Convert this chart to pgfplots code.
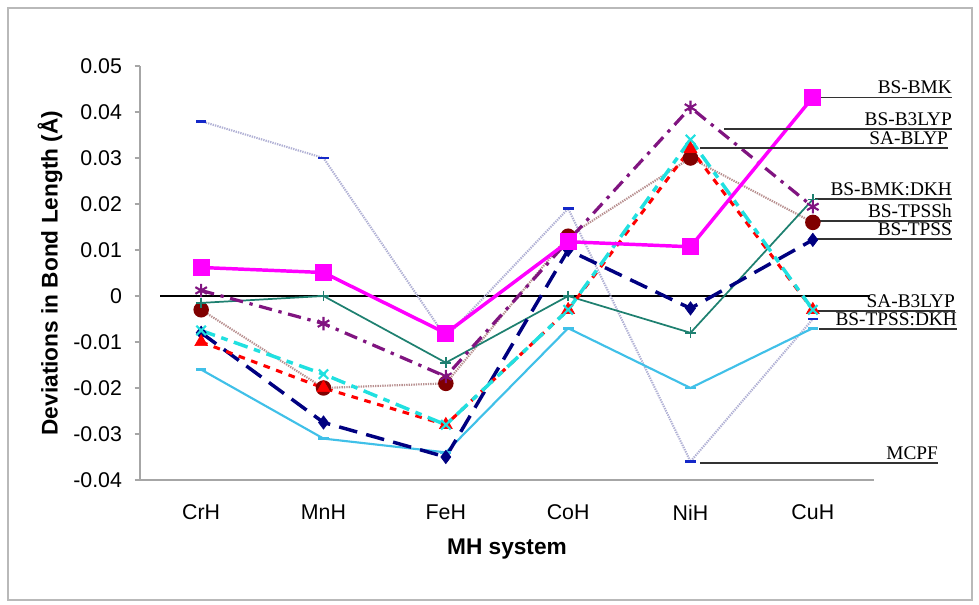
\documentclass[border=0pt]{standalone}
\usepackage{pgfplots}
\pgfplotsset{compat=1.18}
\usepackage{fontspec}
\setmainfont{Liberation Sans}
\newfontfamily\annfont{Liberation Serif}
\definecolor{cMag}{RGB}{255,0,255}
\definecolor{cPur}{RGB}{128,20,128}
\definecolor{cRed}{RGB}{255,0,0}
\definecolor{cTeal}{RGB}{30,128,112}
\definecolor{cMar}{RGB}{128,0,0}
\definecolor{cMarLine}{RGB}{184,144,144}
\definecolor{cNavy}{RGB}{0,0,128}
\definecolor{cCyan}{RGB}{32,224,224}
\definecolor{cSky}{RGB}{64,192,232}
\definecolor{cLav}{RGB}{176,176,212}
\definecolor{cBlue}{RGB}{20,40,200}
\begin{document}
\begin{tikzpicture}
\useasboundingbox (-105pt,-93.75pt) rectangle (629.25pt,360pt);
\draw[gray!55, line width=1pt] (-99pt,-90pt) rectangle (624pt,354pt);
\begin{axis}[
  scale only axis,
  width=550.5pt, height=310.5pt,
  at={(0,0)}, anchor=south west,
  xmin=-0.5, xmax=5.5,
  ymin=-0.04, ymax=0.05,
  clip=false,
  scaled y ticks=false,
  axis x line*=bottom, axis y line*=left,
  axis line style={-, gray!70, line width=0.8pt},
  tick align=outside,
  xtick={0,1,2,3,4,5},
  xticklabels={CrH,MnH,FeH,CoH,NiH,CuH},
  x tick style={draw=none},
  extra x ticks={-0.5,0.5,1.5,2.5,3.5,4.5,5.5},
  extra x tick labels={},
  extra x tick style={tick style={draw=gray!70, line width=0.8pt}, major tick length=4pt},
  ytick={-0.04,-0.03,-0.02,-0.01,0,0.01,0.02,0.03,0.04,0.05},
  yticklabels={-0.04,-0.03,-0.02,-0.01,0,0.01,0.02,0.03,0.04,0.05},
  y tick style={draw=gray!70, line width=0.8pt},
  major tick length=4pt,
  ticklabel style={font=\fontsize{16}{16}\selectfont},
  xticklabel style={yshift=-11pt},
  yticklabel style={xshift=-6pt},
  xlabel={\textbf{MH system}},
  ylabel={\textbf{Deviations in Bond Length (Å)}},
  label style={font=\fontsize{17}{17}\selectfont},
  xlabel style={at={(axis description cs:0.5,-0.168)}, anchor=center},
  ylabel style={at={(axis description cs:-0.1226,0.5)}, anchor=center},
]
% zero line
\addplot[black, line width=2.2pt] coordinates {(-0.335,0) (5.469,0)};
% MCPF
\addplot[cLav, line width=1.6pt, dash pattern=on 1pt off 0.8pt,
  mark=-, mark size=4pt, mark options={solid, draw=cBlue, line width=2.2pt}]
  coordinates {(0,0.038) (1,0.030) (2,-0.009) (3,0.019) (4,-0.036) (5,-0.005)};
% BS-TPSSh
\addplot[cMarLine, line width=1.6pt, dash pattern=on 1pt off 0.8pt,
  mark=*, mark size=5pt, mark options={solid, fill=cMar, draw=cMar}]
  coordinates {(0,-0.003) (1,-0.020) (2,-0.019) (3,0.013) (4,0.030) (5,0.016)};
% BS-TPSS:DKH
\addplot[cSky, line width=1.6pt,
  mark=-, mark size=4pt, mark options={solid, line width=2.2pt}]
  coordinates {(0,-0.016) (1,-0.031) (2,-0.034) (3,-0.007) (4,-0.020) (5,-0.007)};
% BS-BMK:DKH
\addplot[cTeal, line width=1.3pt,
  mark=+, mark size=4pt, mark options={solid, line width=1.3pt}]
  coordinates {(0,-0.0015) (1,0.0) (2,-0.0145) (3,0.0) (4,-0.008) (5,0.021)};
% BS-TPSS
\addplot[cNavy, line width=2.6pt, dash pattern=on 14pt off 7pt,
  mark=diamond*, mark size=5pt, mark options={solid, fill=cNavy, draw=cNavy, line width=0.5pt}]
  coordinates {(0,-0.008) (1,-0.0275) (2,-0.035) (3,0.010) (4,-0.0027) (5,0.0122)};
% SA-BLYP
\addplot[cRed, line width=2.3pt, dash pattern=on 5pt off 5pt,
  mark=triangle*, mark size=5.5pt, mark options={solid, fill=cRed, draw=cRed, line width=0.5pt}]
  coordinates {(0,-0.010) (1,-0.020) (2,-0.028) (3,-0.003) (4,0.032) (5,-0.003)};
% SA-B3LYP
\addplot[cCyan, line width=2.6pt, dash pattern=on 11pt off 5pt on 5pt off 5pt,
  mark=x, mark size=5pt, mark options={solid, line width=1.6pt}]
  coordinates {(0,-0.0075) (1,-0.017) (2,-0.028) (3,-0.003) (4,0.034) (5,-0.003)};
% BS-B3LYP
\addplot[cPur, line width=2.4pt, dash pattern=on 10pt off 5pt on 2.5pt off 5pt,
  mark=asterisk, mark size=5pt, mark options={solid, line width=1.6pt}]
  coordinates {(0,0.0012) (1,-0.006) (2,-0.0175) (3,0.012) (4,0.041) (5,0.0194)};
% BS-BMK
\addplot[cMag, line width=2.6pt,
  mark=square*, mark size=5pt, mark options={solid, fill=cMag, draw=cMag}]
  coordinates {(0,0.0062) (1,0.0051) (2,-0.0081) (3,0.0118) (4,0.0107) (5,0.0432)};
% annotations
\def\ann#1#2#3#4{%
  \draw[black!80, line width=1.1pt] (axis cs:#1,#3) -- (axis cs:#2,#3);
  \node[anchor=base east, inner sep=0pt, yshift=2.5pt, font=\annfont\fontsize{14.5}{14.5}\selectfont] at (axis cs:#2,#3) {#4};}
\ann{5.044}{6.139}{0.0432}{BS-BMK}
\ann{4.275}{6.139}{0.0363}{BS-B3LYP}
\ann{4.079}{6.107}{0.0322}{SA-BLYP}
\ann{5.019}{6.139}{0.0211}{BS-BMK:DKH}
\ann{5.019}{6.139}{0.0163}{BS-TPSSh}
\ann{5.019}{6.139}{0.0124}{BS-TPSS}
\ann{5.035}{6.164}{-0.0033}{SA-B3LYP}
\ann{5.052}{6.180}{-0.0072}{BS-TPSS:DKH}
\ann{4.079}{6.025}{-0.0363}{MCPF}
\end{axis}
\end{tikzpicture}
\end{document}
